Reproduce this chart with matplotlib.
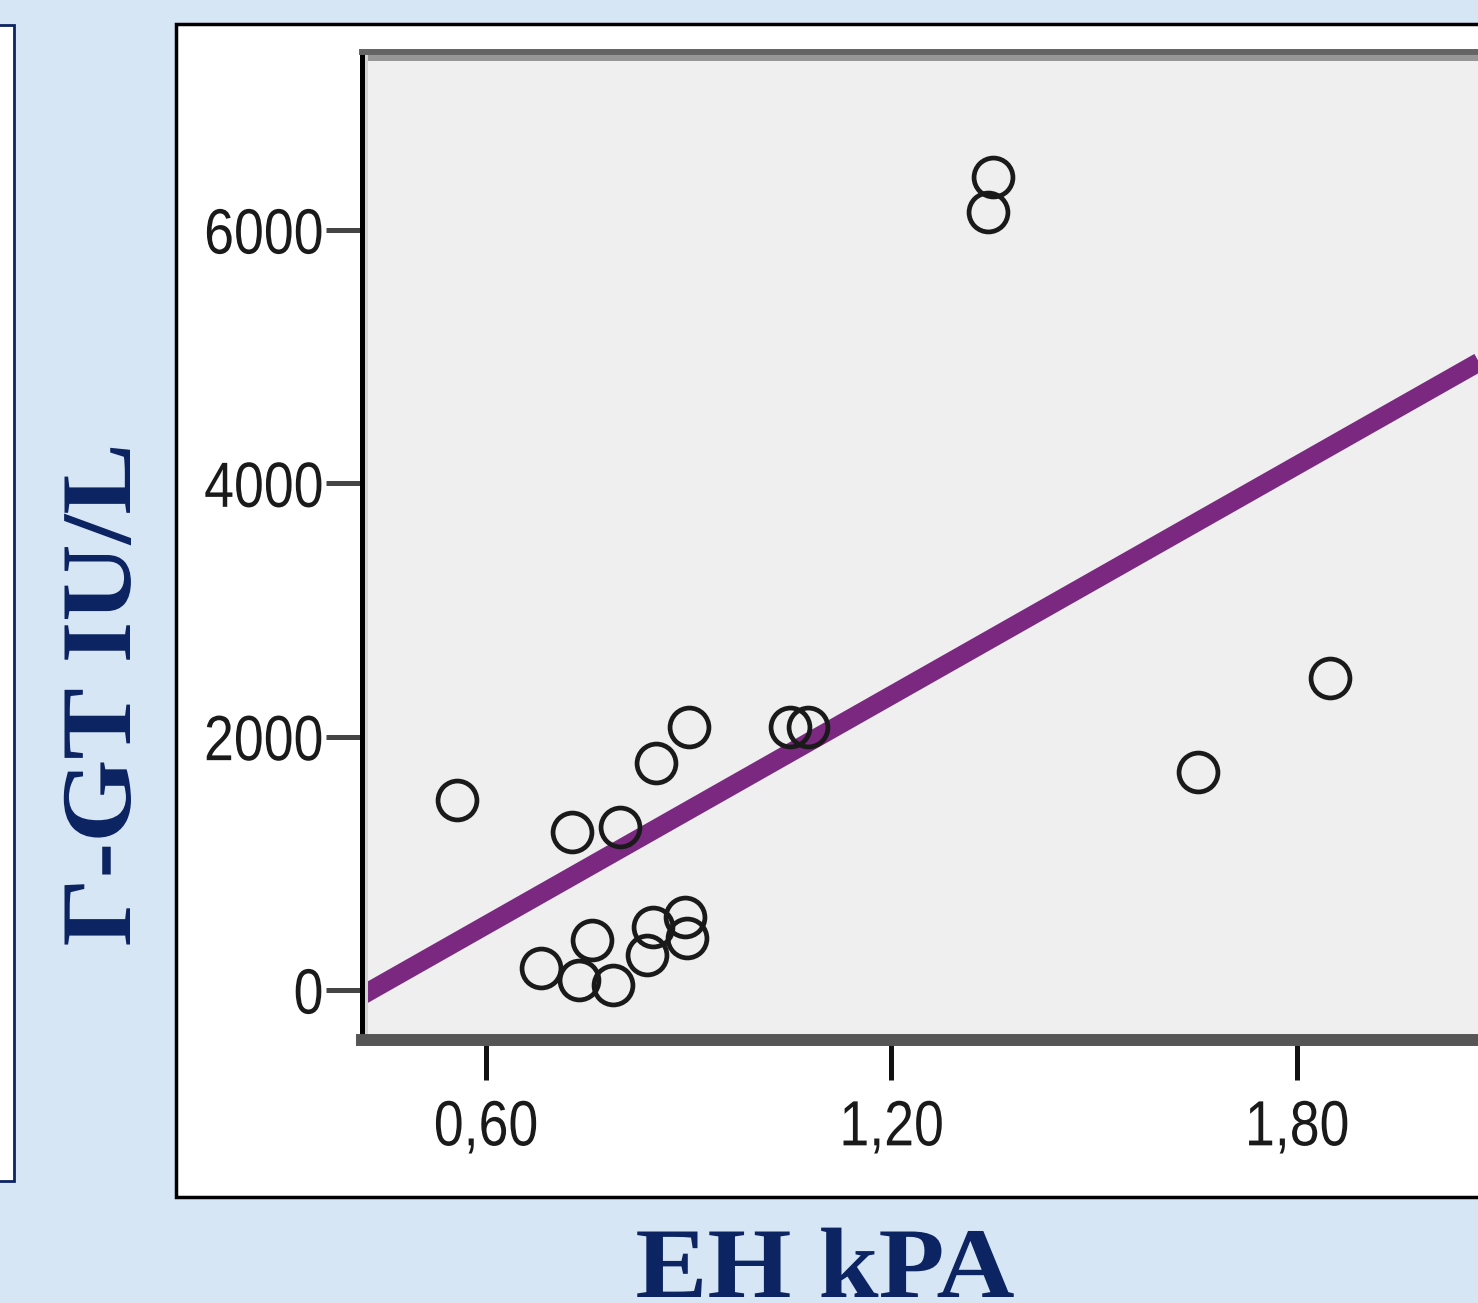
import matplotlib
matplotlib.use("Agg")
import matplotlib.pyplot as plt
from matplotlib import patheffects
from matplotlib.patches import Rectangle
from matplotlib.transforms import Affine2D

# ── Data ───────────────────────────────────────────────────────────────────────
eh_kpa = [0.557, 0.727, 0.798, 0.852, 0.900, 1.050, 1.076, 1.350, 1.343, 1.654,
          1.849, 0.681, 0.738, 0.757, 0.788, 0.838, 0.847, 0.894, 0.897]
ggt_iu = [1500, 1247, 1287, 1792, 2076, 2076, 2076, 6418, 6142, 1721,
          2463, 174, 79, 395, 39, 276, 497, 576, 411]

fit_intercept = -1303     # linear fit line, GGT = a + b * EH
fit_slope = 3025

x_ticks = [0.6, 1.2, 1.8]
x_ticklabels = ["0,60", "1,20", "1,80"]
y_ticks = [0, 2000, 4000, 6000]
y_ticklabels = ["0", "2000", "4000", "6000"]

x_label = "EH kPA"
y_label = "Γ-GT IU/L"

# ── Layout (pixels of the 1478x1303 output) ────────────────────────────────────
W, H = 1478, 1303
NAVY = "#0c2461"
BG = "#d7e6f5"
TICK_FONT = ["Liberation Sans", "DejaVu Sans"]
LABEL_FONT = ["Liberation Serif", "DejaVu Serif"]


def fx(px):
    return px / W


def fy(py):
    return 1 - py / H


class Squeeze(patheffects.AbstractPathEffect):
    """Scale the glyph outlines about an anchor (SPSS uses a narrow face)."""

    def __init__(self, sx=1.0, sy=1.0, anchor="center"):
        super().__init__()
        self.sx, self.sy, self.anchor = sx, sy, anchor

    def draw_path(self, renderer, gc, tpath, affine, rgbFace=None):
        ext = tpath.get_extents(affine)
        x0 = ext.x1 if self.anchor == "right" else (ext.x0 + ext.x1) / 2
        y0 = (ext.y0 + ext.y1) / 2
        tr = Affine2D().translate(-x0, -y0).scale(self.sx, self.sy).translate(x0, y0)
        renderer.draw_path(gc, tpath, affine + tr, rgbFace)


fig = plt.figure(figsize=(W / 100, H / 100), dpi=100, facecolor=BG)

# white chart frame and the neighbouring panel on the left
fig.patches.append(Rectangle((fx(176), fy(1197)), fx(1400), 1173 / H,
                             transform=fig.transFigure, facecolor="white",
                             edgecolor="black", linewidth=2.5, zorder=-5))
fig.patches.append(Rectangle((fx(-50), fy(1181)), fx(64), 1156 / H,
                             transform=fig.transFigure, facecolor="white",
                             edgecolor=NAVY, linewidth=2.0, zorder=-5))

# plot area, right edge runs off the picture
ax_l, ax_r, ax_t, ax_b = 362, 1560, 52, 1040
ax = fig.add_axes([fx(ax_l), fy(ax_b), fx(ax_r - ax_l), (ax_b - ax_t) / H])
ax.set_facecolor("#efefef")

px_per_x = 675.8       # pixels per kPa
px_per_y = 0.12667     # pixels per IU/L
ax.set_xlim(0.6 + (ax_l - 486) / px_per_x, 0.6 + (ax_r - 486) / px_per_x)
ax.set_ylim((990 - ax_b) / px_per_y, (990 - ax_t) / px_per_y)

# fit line + scatter
ax.axline((0, fit_intercept), slope=fit_slope, color="#7a2880",
          linewidth=13.5, solid_capstyle="butt", zorder=2)
ax.plot(eh_kpa, ggt_iu, linestyle="none", marker="o", markersize=28,
        markerfacecolor="none", markeredgecolor="#1a1a1a",
        markeredgewidth=3.4, zorder=3)

# inner light edges of the frame
ax.axhline((990 - 58) / px_per_y, color="#969696", linewidth=4.3, zorder=4)
ax.axvline(0.6 + (366 - 486) / px_per_x, color="#d4d4d4", linewidth=2.2, zorder=4)

ax.spines["right"].set_visible(False)
ax.spines["left"].set_color("black")
ax.spines["left"].set_linewidth(3.6)
ax.spines["top"].set_color("#646464")
ax.spines["top"].set_linewidth(4.3)
ax.spines["bottom"].set_color("#555555")
ax.spines["bottom"].set_linewidth(8.6)
for sp in ax.spines.values():
    sp.set_zorder(5)

ax.set_xticks(x_ticks)
ax.set_xticklabels(x_ticklabels)
ax.set_yticks(y_ticks)
ax.set_yticklabels(y_ticklabels)
ax.tick_params(axis="y", length=26, width=3.6, color="#444444", pad=1.5,
               labelsize=46, labelcolor="#1a1a1a")
ax.tick_params(axis="x", length=29, width=3.6, color="#111111", pad=13,
               labelsize=46, labelcolor="#1a1a1a")
for lab in ax.get_xticklabels():
    lab.set_fontfamily(TICK_FONT)
    lab.set_path_effects([Squeeze(sx=0.84)])
for lab in ax.get_yticklabels():
    lab.set_fontfamily(TICK_FONT)
    lab.set_path_effects([Squeeze(sx=0.84, anchor="right")])

# axis titles
fig.text(fx(825), fy(1297), x_label, ha="center", va="baseline",
         fontsize=72, fontweight="bold", color=NAVY, family=LABEL_FONT,
         path_effects=[Squeeze(sx=1.08)])
fig.text(fx(130), fy(695), y_label, ha="center", va="baseline",
         rotation=90, rotation_mode="anchor",
         fontsize=72, fontweight="bold", color=NAVY, family=LABEL_FONT,
         path_effects=[Squeeze(sy=1.07)])

fig.savefig("out.png", dpi=100, facecolor=BG)
